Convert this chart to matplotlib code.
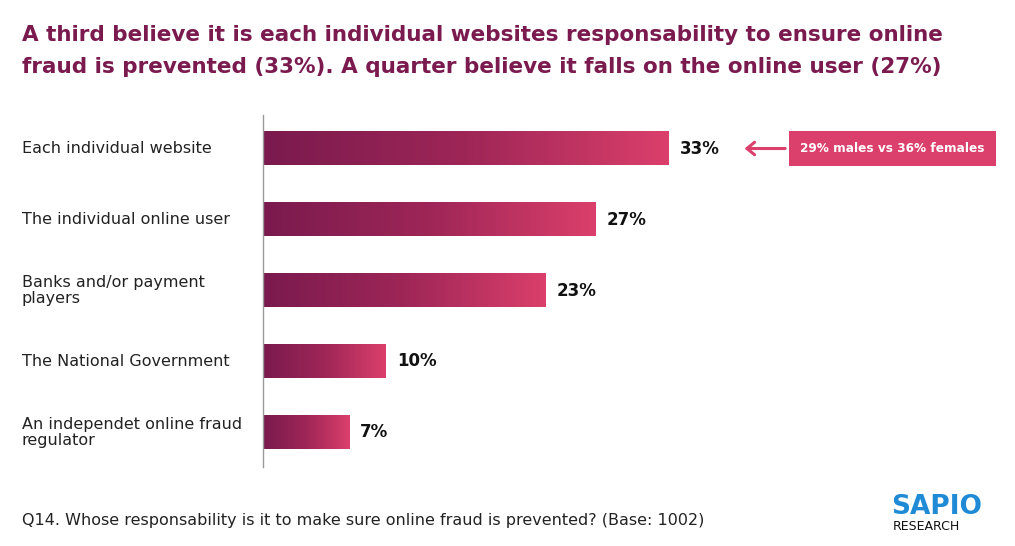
import matplotlib.pyplot as plt
import numpy as np
from matplotlib.colors import LinearSegmentedColormap
from matplotlib.patches import Rectangle

categories = [
    "Each individual website",
    "The individual online user",
    "Banks and/or payment\nplayers",
    "The National Government",
    "An independet online fraud\nregulator",
]
values = [33, 27, 23, 10, 7]
value_labels = ["33%", "27%", "23%", "10%", "7%"]

title = ("A third believe it is each individual websites responsability to ensure online\n"
         "fraud is prevented (33%). A quarter believe it falls on the online user (27%)")
footer = "Q14. Whose responsability is it to make sure online fraud is prevented? (Base: 1002)"
callout = "29% males vs 36% females"

dark = "#7a1a4e"
pink = "#db3f6b"
cmap = LinearSegmentedColormap.from_list("bars", [dark, "#9e2657", pink])

fig = plt.figure(figsize=(10.15, 5.46), dpi=100)
W, H = 1015, 546
# axes placed in pixel coordinates: left=263, right=1001, top=115, bottom=467
ax = fig.add_axes([263 / W, 1 - 467 / H, (1001 - 263) / W, (467 - 115) / H])

bar_h = 0.465
grad = np.linspace(0, 1, 256).reshape(1, -1)
for i, v in enumerate(values):
    ax.imshow(grad, cmap=cmap, aspect="auto", interpolation="bicubic",
              extent=[0, v, i + bar_h / 2, i - bar_h / 2], zorder=2)
    ax.text(v + 0.9, i, value_labels[i], va="center", ha="left",
            fontsize=12, fontweight="bold", color="#111111", family="DejaVu Sans")
    ax.text(-19.6, i, categories[i], va="center", ha="left", fontsize=11.5,
            color="#222222", family="DejaVu Sans", linespacing=1.15)
ax.set_xlim(0, 60)
ax.set_ylim(4.486, -0.472)

for s in ["top", "right", "bottom"]:
    ax.spines[s].set_visible(False)
ax.spines["left"].set_color("#999999")
ax.spines["left"].set_linewidth(1)
ax.set_xticks([])
ax.set_yticks([])

# callout box and arrow
box_x0, box_x1 = 42.76, 59.6
ax.add_patch(Rectangle((box_x0, -0.24), box_x1 - box_x0, 0.48, fc=pink, ec="none",
                       clip_on=False, zorder=3))
ax.text((box_x0 + box_x1) / 2, 0, callout, va="center", ha="center", fontsize=8.7,
        fontweight="bold", color="white", family="DejaVu Sans", zorder=4)
ax.annotate("", xy=(39.15, 0), xytext=(42.45, 0),
            arrowprops=dict(arrowstyle="->,head_length=0.55,head_width=0.45",
                            color=pink, lw=2.2, shrinkA=0, shrinkB=0))

fig.text(22 / W, 1 - 51 / H, title, ha="left", va="center", fontsize=15.5,
         fontweight="bold", color=dark, family="DejaVu Sans",
         linespacing=1.7)
fig.text(22 / W, 1 - 520 / H, footer, ha="left", va="center", fontsize=11.5,
         color="#222222", family="DejaVu Sans")

# logo
fig.text(891 / W, 1 - 507 / H, "SAPIO", ha="left", va="center", fontsize=19,
         fontweight="heavy", color="#1f8ad6", family="DejaVu Sans")
fig.text(893 / W, 1 - 527 / H, "RESEARCH", ha="left", va="center", fontsize=9,
         color="#111111", family="DejaVu Sans")

fig.savefig("out.png", dpi=100)
